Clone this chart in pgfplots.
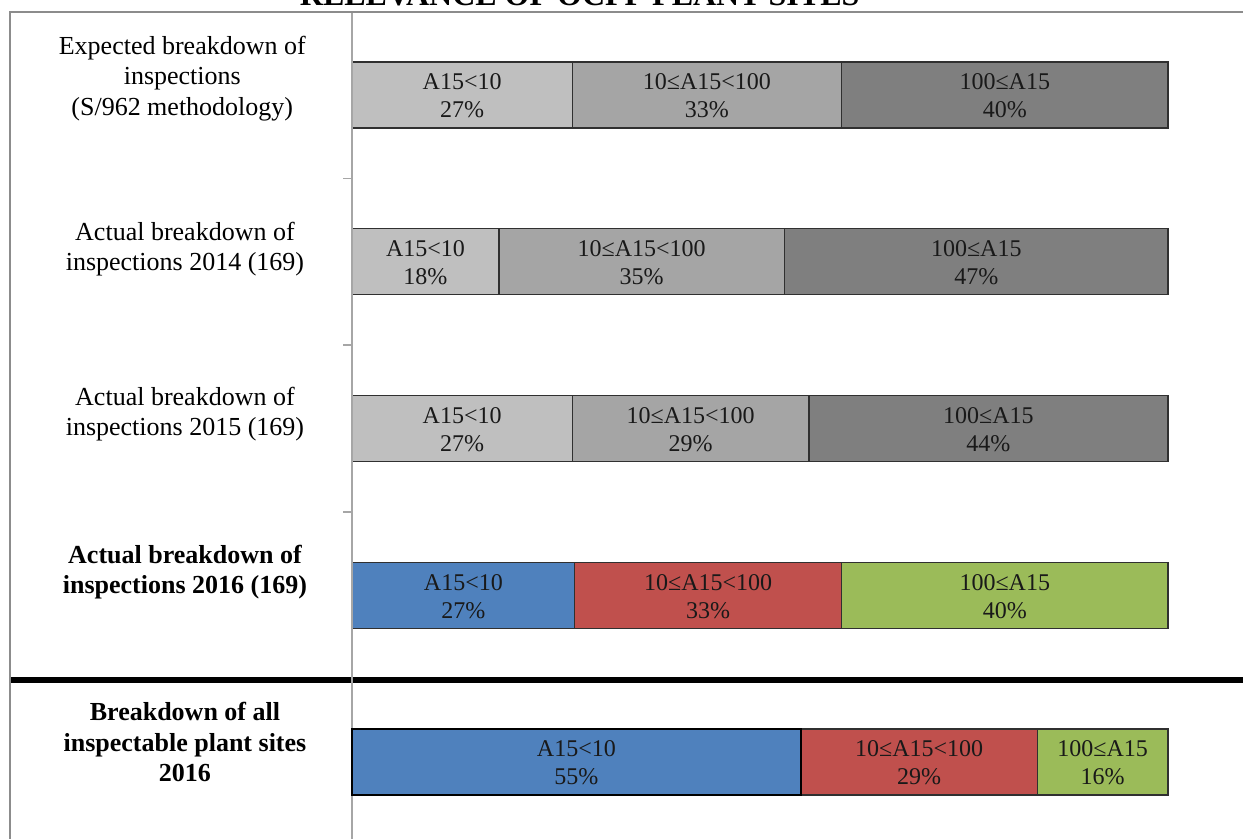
\documentclass[border=0pt]{standalone}
\usepackage{fontspec}
\setmainfont{Liberation Serif}
\usepackage{pgfplots}
\pgfplotsset{compat=1.18}
\definecolor{g1}{HTML}{BFBFBF}
\definecolor{g2}{HTML}{A5A5A5}
\definecolor{g3}{HTML}{7F7F7F}
\definecolor{cb}{HTML}{4F81BD}
\definecolor{cr}{HTML}{C0504D}
\definecolor{cg}{HTML}{9BBB59}
\definecolor{framec}{HTML}{8C8C8C}
\definecolor{axc}{HTML}{A6A6A6}
\definecolor{edgec}{HTML}{303030}
\tikzset{
  barlab/.style={font=\fontsize{12}{14}\selectfont, align=center, text=black!90},
  catlab/.style={font=\fontsize{13}{15.25}\selectfont, align=center},
  catlabb/.style={font=\fontsize{13}{15.25}\selectfont\bfseries, align=center},
}
\begin{document}
\begin{tikzpicture}
\begin{axis}[
  scale only axis, width=621.5pt, height=419pt,
  xmin=-43.137, xmax=109.19, ymin=-0.5697, ymax=4.4558,
  y dir=reverse, hide axis, clip=false,
  xbar stacked, bar width=0.396,
]
\draw[framec, line width=1.3pt] (axis cs:-41.91,4.6) -- (axis cs:-41.91,-0.4978) -- (axis cs:112,-0.4978);
\draw[axc, line width=0.8pt] (axis cs:0,-0.4978) -- (axis cs:0,4.6);
\draw[axc, line width=0.7pt] (axis cs:-1.1,0.5) -- (axis cs:0,0.5);
\draw[axc, line width=0.7pt] (axis cs:-1.1,1.5) -- (axis cs:0,1.5);
\draw[axc, line width=0.7pt] (axis cs:-1.1,2.5) -- (axis cs:0,2.5);
\draw[black, line width=3.4pt] (axis cs:-41.91,3.508) -- (axis cs:112,3.508);

\addplot[fill=g1, draw=edgec, line width=0.7pt] coordinates {(27,0) (18,1) (27,2) (0,3) (0,4)};
\addplot[fill=cb, draw=edgec, line width=0.7pt] coordinates {(0,0) (0,1) (0,2) (27.3,3) (55,4)};
\addplot[fill=g2, draw=edgec, line width=0.7pt] coordinates {(33,0) (35,1) (29,2) (0,3) (0,4)};
\addplot[fill=cr, draw=edgec, line width=0.7pt] coordinates {(0,0) (0,1) (0,2) (32.7,3) (29,4)};
\addplot[fill=g3, draw=edgec, line width=0.7pt] coordinates {(40,0) (47,1) (44,2) (0,3) (0,4)};
\addplot[fill=cg, draw=edgec, line width=0.7pt] coordinates {(0,0) (0,1) (0,2) (40,3) (16,4)};

\coordinate (r1) at (axis cs:0,3.802);
\coordinate (r2) at (axis cs:55,4.198);
\coordinate (a0) at (axis cs:13.5,0.006);
\coordinate (b0) at (axis cs:43.5,0.006);
\coordinate (c0) at (axis cs:80,0.006);
\coordinate (a1) at (axis cs:9,1.006);
\coordinate (b1) at (axis cs:35.5,1.006);
\coordinate (c1) at (axis cs:76.5,1.006);
\coordinate (a2) at (axis cs:13.5,2.006);
\coordinate (b2) at (axis cs:41.5,2.006);
\coordinate (c2) at (axis cs:78,2.006);
\coordinate (a3) at (axis cs:13.65,3.006);
\coordinate (b3) at (axis cs:43.65,3.006);
\coordinate (c3) at (axis cs:80,3.006);
\coordinate (a4) at (axis cs:27.5,4.006);
\coordinate (b4) at (axis cs:69.5,4.006);
\coordinate (c4) at (axis cs:92,4.006);

\node[catlab] at (axis cs:-20.8,-0.10) {Expected breakdown of\\inspections\\(S/962 methodology)};
\node[catlab] at (axis cs:-20.47,0.925) {Actual breakdown of\\inspections 2014 (169)};
\node[catlab] at (axis cs:-20.47,1.915) {Actual breakdown of\\inspections 2015 (169)};
\node[catlabb] at (axis cs:-20.47,2.86) {Actual breakdown of\\inspections 2016 (169)};
\node[catlabb] at (axis cs:-20.47,3.88) {Breakdown of all\\inspectable plant sites\\2016};

\node[font=\fontsize{16}{18}\selectfont\bfseries, anchor=base] at (axis cs:27.9,-0.536) {RELEVANCE OF OCPP PLANT SITES};

\coordinate (bl) at (axis cs:-43.137,4.4558);
\coordinate (tr) at (axis cs:109.19,-0.5697);
\end{axis}
\draw[black, line width=1.3pt] (r1) rectangle (r2);
\node[barlab] at (a0) {A15<10\\27\%};
\node[barlab] at (b0) {10≤A15<100\\33\%};
\node[barlab] at (c0) {100≤A15\\40\%};
\node[barlab] at (a1) {A15<10\\18\%};
\node[barlab] at (b1) {10≤A15<100\\35\%};
\node[barlab] at (c1) {100≤A15\\47\%};
\node[barlab] at (a2) {A15<10\\27\%};
\node[barlab] at (b2) {10≤A15<100\\29\%};
\node[barlab] at (c2) {100≤A15\\44\%};
\node[barlab] at (a3) {A15<10\\27\%};
\node[barlab] at (b3) {10≤A15<100\\33\%};
\node[barlab] at (c3) {100≤A15\\40\%};
\node[barlab] at (a4) {A15<10\\55\%};
\node[barlab] at (b4) {10≤A15<100\\29\%};
\node[barlab] at (c4) {100≤A15\\16\%};
\pgfresetboundingbox
\useasboundingbox (bl) rectangle (tr);
\end{tikzpicture}
\end{document}
